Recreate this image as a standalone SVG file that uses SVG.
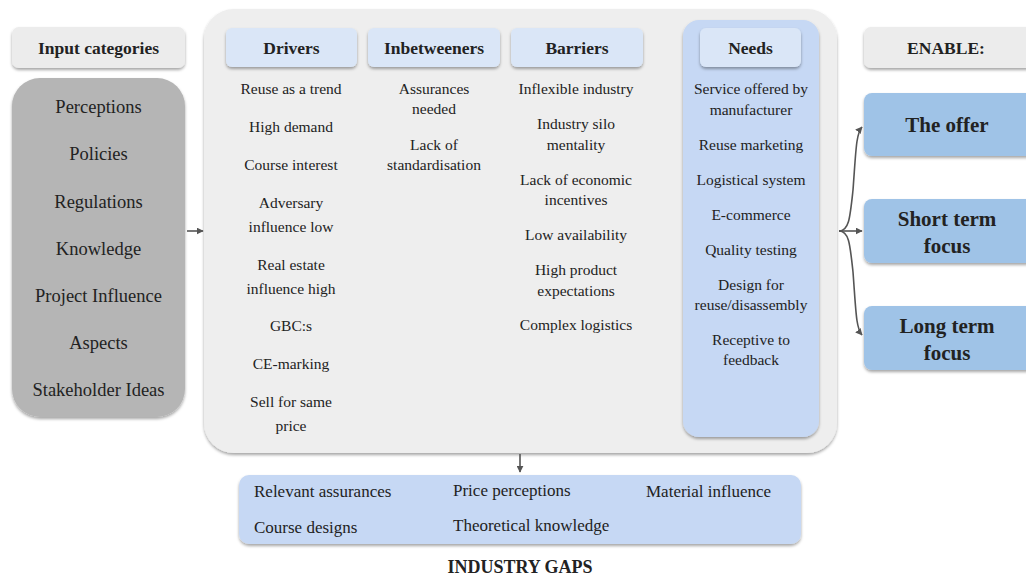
<svg xmlns="http://www.w3.org/2000/svg" width="1026" height="575" viewBox="0 0 1026 575">
  <style>
    text { font-family: "Liberation Serif", "Times New Roman", serif; fill: #222222; text-anchor: middle; }
    .hd { font-weight: bold; font-size: 17.5px; }
    .it { font-size: 15.5px; }
    .cat { font-size: 18.5px; }
    .gap { font-size: 17px; text-anchor: start; }
    .big { font-weight: bold; font-size: 21px; }
    .conn { fill: none; stroke: #555555; stroke-width: 1.6; marker-end: url(#ah); }
  </style>
  <defs>
    <filter id="sh" x="-10%" y="-10%" width="120%" height="130%">
      <feDropShadow dx="0" dy="2" stdDeviation="1.5" flood-color="#000000" flood-opacity="0.35"/>
    </filter>
    <marker id="ah" viewBox="0 0 10 10" refX="9" refY="5" markerWidth="7" markerHeight="7" orient="auto" markerUnits="userSpaceOnUse">
      <path d="M0,0 L10,5 L0,10 z" fill="#555555"/>
    </marker>
  </defs>

  <rect width="1026" height="575" fill="#ffffff"/>

  <!-- input categories -->
  <g id="input-header">
    <rect x="12" y="27" width="173" height="41" rx="7" fill="#ececec" filter="url(#sh)"/>
    <text class="hd" x="98.5" y="54">Input categories</text>
  </g>
  <g id="input-list">
    <rect x="12" y="78" width="173" height="339" rx="28" fill="#b5b5b5" filter="url(#sh)"/>
    <text class="cat" x="98.5" y="113">Perceptions</text>
    <text class="cat" x="98.5" y="160">Policies</text>
    <text class="cat" x="98.5" y="208">Regulations</text>
    <text class="cat" x="98.5" y="255">Knowledge</text>
    <text class="cat" x="98.5" y="302">Project Influence</text>
    <text class="cat" x="98.5" y="349">Aspects</text>
    <text class="cat" x="98.5" y="396">Stakeholder Ideas</text>
  </g>

  <!-- central panel -->
  <g id="panel">
    <rect x="204" y="9" width="633" height="444" rx="30" fill="#eeeeee" filter="url(#sh)"/>
  </g>

  <g id="drivers">
    <rect x="226" y="28" width="131" height="39" rx="6" fill="#dae6f7" filter="url(#sh)"/>
    <text class="hd" x="291.5" y="54">Drivers</text>
    <text class="it" x="291" y="94">Reuse as a trend</text>
    <text class="it" x="291" y="132">High demand</text>
    <text class="it" x="291" y="170">Course interest</text>
    <text class="it" x="291" y="208">Adversary</text>
    <text class="it" x="291" y="232">influence low</text>
    <text class="it" x="291" y="270">Real estate</text>
    <text class="it" x="291" y="294">influence high</text>
    <text class="it" x="291" y="331">GBC:s</text>
    <text class="it" x="291" y="369">CE-marking</text>
    <text class="it" x="291" y="407">Sell for same</text>
    <text class="it" x="291" y="431">price</text>
  </g>

  <g id="inbetweeners">
    <rect x="368" y="28" width="132" height="39" rx="6" fill="#dae6f7" filter="url(#sh)"/>
    <text class="hd" x="434" y="54">Inbetweeners</text>
    <text class="it" x="434" y="94">Assurances</text>
    <text class="it" x="434" y="114">needed</text>
    <text class="it" x="434" y="150">Lack of</text>
    <text class="it" x="434" y="170">standardisation</text>
  </g>

  <g id="barriers">
    <rect x="511" y="28" width="132" height="39" rx="6" fill="#dae6f7" filter="url(#sh)"/>
    <text class="hd" x="577" y="54">Barriers</text>
    <text class="it" x="576" y="94">Inflexible industry</text>
    <text class="it" x="576" y="129">Industry silo</text>
    <text class="it" x="576" y="150">mentality</text>
    <text class="it" x="576" y="185">Lack of economic</text>
    <text class="it" x="576" y="205">incentives</text>
    <text class="it" x="576" y="240">Low availability</text>
    <text class="it" x="576" y="275">High product</text>
    <text class="it" x="576" y="296">expectations</text>
    <text class="it" x="576" y="330">Complex logistics</text>
  </g>

  <g id="needs">
    <rect x="683" y="20" width="136" height="417" rx="16" fill="#c6d8f4" filter="url(#sh)"/>
    <rect x="700" y="28" width="101" height="39" rx="6" fill="#dae6f7" filter="url(#sh)"/>
    <text class="hd" x="750.5" y="54">Needs</text>
    <text class="it" x="751" y="94">Service offered by</text>
    <text class="it" x="751" y="115">manufacturer</text>
    <text class="it" x="751" y="150">Reuse marketing</text>
    <text class="it" x="751" y="185">Logistical system</text>
    <text class="it" x="751" y="220">E-commerce</text>
    <text class="it" x="751" y="255">Quality testing</text>
    <text class="it" x="751" y="290">Design for</text>
    <text class="it" x="751" y="310">reuse/disassembly</text>
    <text class="it" x="751" y="345">Receptive to</text>
    <text class="it" x="751" y="365">feedback</text>
  </g>

  <!-- outcomes -->
  <g id="enable-header">
    <rect x="864" y="27" width="170" height="41" rx="7" fill="#ececec" filter="url(#sh)"/>
    <text class="hd" x="946" y="54">ENABLE:</text>
  </g>
  <g id="the-offer">
    <rect x="864" y="93" width="170" height="63" rx="8" fill="#9fc3e7" filter="url(#sh)"/>
    <text class="big" x="947" y="132">The offer</text>
  </g>
  <g id="short-term">
    <rect x="864" y="199" width="170" height="64" rx="8" fill="#9fc3e7" filter="url(#sh)"/>
    <text class="big" x="947" y="226">Short term</text>
    <text class="big" x="947" y="253">focus</text>
  </g>
  <g id="long-term">
    <rect x="864" y="306" width="170" height="64" rx="8" fill="#9fc3e7" filter="url(#sh)"/>
    <text class="big" x="947" y="333">Long term</text>
    <text class="big" x="947" y="360">focus</text>
  </g>

  <!-- industry gaps -->
  <g id="industry-gaps">
    <rect x="239" y="475" width="562" height="69" rx="10" fill="#c6d8f4" filter="url(#sh)"/>
    <text class="gap" x="254" y="497">Relevant assurances</text>
    <text class="gap" x="453" y="496">Price perceptions</text>
    <text class="gap" x="646" y="497">Material influence</text>
    <text class="gap" x="254" y="533">Course designs</text>
    <text class="gap" x="453" y="531">Theoretical knowledge</text>
    <text class="hd" x="520" y="573" style="font-size:18px">INDUSTRY GAPS</text>
  </g>

  <!-- connectors -->
  <g id="connectors">
    <path class="conn" d="M187,231 L203,231"/>
    <path class="conn" d="M520,454 L520,472"/>
    <path class="conn" d="M839,231 C849,231 850,218 853,190 C856,150 856,134 862,127"/>
    <path class="conn" d="M839,231 L862,231"/>
    <path class="conn" d="M839,231 C849,231 850,244 853,272 C856,312 856,328 862,335"/>
  </g>
</svg>
